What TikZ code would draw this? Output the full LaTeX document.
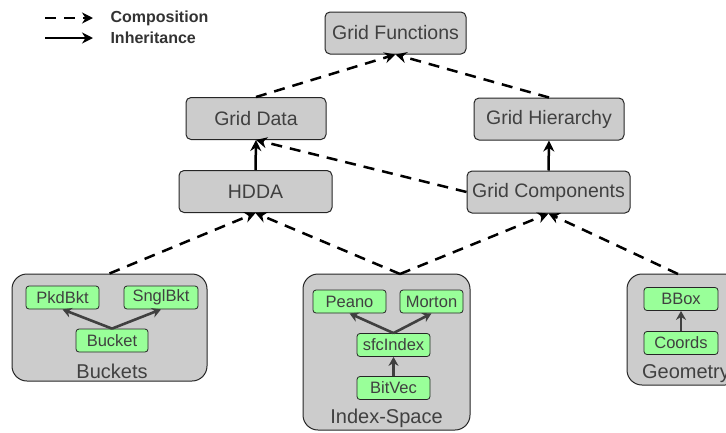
\documentclass[tikz,border=0pt]{standalone}
\usepackage{fontspec}
\setmainfont{Liberation Sans}
\usetikzlibrary{arrows.meta}
\usetikzlibrary{positioning}

\definecolor{boxgray}{HTML}{CCCCCC}
\definecolor{boxgreen}{HTML}{99FF99}
\definecolor{txtgray}{HTML}{404040}

\tikzset{
  classbox/.style={draw=black!85, fill=boxgray, rounded corners=5pt, line width=1pt,
    inner sep=0pt, text=txtgray, font=\fontsize{19.5}{21}\selectfont, minimum height=42pt},
  groupbox/.style={draw=black!85, fill=boxgray, rounded corners=15pt, line width=1pt, inner sep=0pt},
  grouplabel/.style={text=txtgray, font=\fontsize{20}{22}\selectfont},
  leafbox/.style={draw=black!85, fill=boxgreen, rounded corners=3pt, line width=0.8pt,
    inner sep=0pt, text=txtgray, font=\fontsize{16.5}{18}\selectfont, minimum width=73pt, minimum height=23pt},
  compose/.style={-{Stealth[length=11pt,width=11pt]}, line width=2.5pt, dash pattern=on 11pt off 8pt},
  inherit/.style={-{Stealth[length=11pt,width=11pt]}, line width=2.5pt},
  leafarrow/.style={-{Stealth[length=9pt,width=10pt]}, line width=2.6pt, draw=black!75},
}

\begin{document}
\begin{tikzpicture}[x=1pt,y=-1pt]
\useasboundingbox (0,0) rectangle (726,432);

% legend
\coordinate (c1) at (45,18);  \coordinate (c2) at (93,18);
\coordinate (i1) at (45,38);  \coordinate (i2) at (93,38);
\draw[compose,line width=2.2pt] (c1) -- (c2);
\draw[inherit,line width=2.2pt] (i1) -- (i2);
\node[anchor=west,font=\fontsize{16}{17}\bfseries\selectfont,text=black!80] (lcomp) at (107,18) {Composition};
\node[anchor=west,font=\fontsize{16}{17}\bfseries\selectfont,text=black!80] (linh) at (107,38) {Inheritance};

% upper classes
\node[classbox,minimum width=141pt] (gfun) at (395.5,33) {Grid Functions};
\node[classbox,minimum width=140pt] (gdata) at (256,118.5) {Grid Data};
\node[classbox,minimum width=150pt] (ghier) at (549,119) {Grid Hierarchy};
\node[classbox,minimum width=153pt] (hdda) at (255.5,191.5) {HDDA};
\node[classbox,minimum width=163pt] (gcomp) at (548.5,192) {Grid Components};

% groups
\node[groupbox,minimum width=195pt,minimum height=107pt] (buckets) at (109.5,327.5) {};
\node[groupbox,minimum width=167pt,minimum height=156pt] (index) at (386.5,352) {};
\node[groupbox,minimum width=113pt,minimum height=111pt] (geom) at (683.5,329.5) {};
\node[grouplabel] (lbuckets) at (112,371) {Buckets};
\node[grouplabel] (lindex) at (386.5,418) {Index-Space};
\node[grouplabel] (lgeom) at (686,374) {Geometry};
\coordinate (itop) at (400,274);
\coordinate (gtop) at (678,274);

% leaf classes
\node[leafbox] (pkd) at (62.5,297.5) {PkdBkt};
\node[leafbox,minimum width=74pt] (sngl) at (161,297.5) {SnglBkt};
\node[leafbox,minimum width=72pt] (bucket) at (112,340.5) {Bucket};
\node[leafbox] (peano) at (349.5,301.5) {Peano};
\node[leafbox,minimum width=63pt] (morton) at (431.5,301.5) {Morton};
\node[leafbox] (sfc) at (393.5,345) {sfcIndex};
\node[leafbox] (bitvec) at (393.5,388) {BitVec};
\node[leafbox,minimum width=74pt] (bbox) at (681,299) {BBox};
\node[leafbox,minimum width=74pt] (coords) at (681,343) {Coords};

% composition
\draw[compose] (gdata.north) -- (gfun.south);
\draw[compose] (ghier.north) -- (gfun.south);
\draw[compose] (gcomp.west) -- (gdata.south);
\draw[compose] (buckets.north) -- (hdda.south);
\draw[compose] (itop) -- (hdda.south);
\draw[compose] (itop) -- (gcomp.south);
\draw[compose] (gtop) -- (gcomp.south);

% inheritance
\draw[inherit] (hdda.north) -- (gdata.south);
\draw[inherit] (gcomp.north) -- (ghier.south);
\draw[leafarrow] (bucket.north) -- (pkd.south);
\draw[leafarrow] (bucket.north) -- (sngl.south);
\draw[leafarrow] (sfc.north) -- (peano.south);
\draw[leafarrow] (sfc.north) -- (morton.south);
\draw[leafarrow] (bitvec.north) -- (sfc.south);
\draw[leafarrow] (coords.north) -- (bbox.south);
\end{tikzpicture}
\end{document}
